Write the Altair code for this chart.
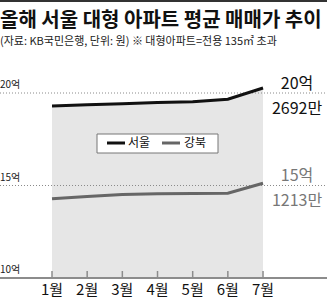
import altair as alt
import pandas as pd

# ---- data ----
months = ["1월", "2월", "3월", "4월", "5월", "6월", "7월"]
month_num = [1, 2, 3, 4, 5, 6, 7]
seoul = [19.30, 19.36, 19.42, 19.48, 19.53, 19.66, 20.27]     # 억원
gangbuk = [14.28, 14.41, 14.51, 14.55, 14.57, 14.58, 15.12]    # 억원
grid_values = [20, 15, 10]
grid_labels = ["20억", "15억", "10억"]
baseline_value = 10
last_labels_seoul = ["20억", "2692만"]
last_labels_gangbuk = ["15억", "1213만"]

title_text = "올해 서울 대형 아파트 평균 매매가 추이"
subtitle_text = "(자료: KB국민은행, 단위: 원) ※ 대형아파트=전용 135㎡ 초과"

df = pd.DataFrame({"m": month_num, "label": months, "seoul": seoul, "gangbuk": gangbuk})
df["base"] = baseline_value
grid = pd.DataFrame({"v": grid_values, "label": grid_labels})

FONT = "Noto Sans CJK KR"
NARROW = "Liberation Sans Narrow, Noto Sans CJK KR"

xs = alt.Scale(domain=[-0.4786, 8.819], nice=False, zero=False)
ys = alt.Scale(domain=[8.919, 25.027], nice=False, zero=False)

def X(f):
    return alt.X(f, type="quantitative", scale=xs, axis=None)

def Y(f):
    return alt.Y(f, type="quantitative", scale=ys, axis=None)

base = alt.Chart(df)

area = base.mark_area(color="#e6e6e6").encode(
    x=X("m"), y=Y("seoul"), y2=alt.Y2("base")
)

gridlines = alt.Chart(grid[grid.v > 10]).mark_rule(
    color="#8a8a8a", strokeWidth=1, strokeDash=[1, 2]
).encode(y=Y("v"), x=alt.value(0), x2=alt.value(327))

axis_line = alt.Chart(grid[grid.v == 10]).mark_rule(
    color="#8c8c8c", strokeWidth=2
).encode(y=Y("v"), x=alt.value(0), x2=alt.value(327))

ticks = base.mark_rule(color="#8c8c8c", strokeWidth=1.5).encode(
    x=X("m"), y=Y("base"), y2=alt.value(271)
)

grid_text = alt.Chart(grid).mark_text(
    align="left", baseline="alphabetic", dy=-5, font=NARROW, fontSize=10, color="#222"
).encode(y=Y("v"), x=alt.value(0), text="label")

month_text = base.mark_text(
    align="center", baseline="alphabetic", font=NARROW, fontSize=15, color="#111"
).encode(x=X("m"), y=alt.value(295), text="label")

line_seoul = base.mark_line(color="#111111", strokeWidth=3).encode(x=X("m"), y=Y("seoul"))
line_gb = base.mark_line(color="#666666", strokeWidth=3).encode(x=X("m"), y=Y("gangbuk"))

last = alt.Chart(df.iloc[[-1]])
s1 = last.mark_text(align="center", baseline="alphabetic", dx=34, dy=1,
                    font=NARROW, fontSize=16, color="#111", text=last_labels_seoul[0]
                    ).encode(x=X("m"), y=Y("seoul"))
s2 = last.mark_text(align="center", baseline="alphabetic", dx=34, dy=26,
                    font=NARROW, fontSize=16, color="#111", text=last_labels_seoul[1]
                    ).encode(x=X("m"), y=Y("seoul"))
g1 = last.mark_text(align="center", baseline="alphabetic", dx=34, dy=-2,
                    font=NARROW, fontSize=16, color="#777", text=last_labels_gangbuk[0]
                    ).encode(x=X("m"), y=Y("gangbuk"))
g2 = last.mark_text(align="center", baseline="alphabetic", dx=34, dy=23,
                    font=NARROW, fontSize=16, color="#777", text=last_labels_gangbuk[1]
                    ).encode(x=X("m"), y=Y("gangbuk"))

# legend
one = alt.Chart(pd.DataFrame({"a": [0]}))
leg_box = one.mark_rect(fill="white", stroke="#777", strokeWidth=1).encode(
    x=alt.value(97), x2=alt.value(218), y=alt.value(134), y2=alt.value(153))
leg_l1 = one.mark_rule(color="#111", strokeWidth=3).encode(
    x=alt.value(107), x2=alt.value(125), y=alt.value(143))
leg_t1 = one.mark_text(align="left", baseline="middle", font=FONT, fontSize=12,
                       color="#111", text="서울").encode(x=alt.value(128), y=alt.value(143))
leg_l2 = one.mark_rule(color="#666", strokeWidth=3).encode(
    x=alt.value(162), x2=alt.value(180), y=alt.value(143))
leg_t2 = one.mark_text(align="left", baseline="middle", font=FONT, fontSize=12,
                       color="#111", text="강북").encode(x=alt.value(184), y=alt.value(143))

# header
top_bar = one.mark_rule(color="#333", strokeWidth=2).encode(
    x=alt.value(0), x2=alt.value(327), y=alt.value(1))
title = one.mark_text(align="left", baseline="alphabetic", font=FONT, fontSize=20,
                      fontWeight="bold", color="#111", text=title_text
                      ).encode(x=alt.value(0), y=alt.value(27))
subtitle = one.mark_text(align="left", baseline="alphabetic", font=NARROW, fontSize=11,
                         color="#222", text=subtitle_text
                         ).encode(x=alt.value(0), y=alt.value(45))

chart = alt.layer(
    area, gridlines, axis_line, ticks, grid_text, month_text,
    line_gb, line_seoul, s1, s2, g1, g2,
    leg_box, leg_l1, leg_t1, leg_l2, leg_t2,
    top_bar, title, subtitle,
).properties(
    width=327, height=298, padding=0, autosize=alt.AutoSizeParams(type="none"),
    background="white"
).configure_view(stroke=None)

chart.save("out.html", embed_options={"renderer": "svg", "actions": False})
